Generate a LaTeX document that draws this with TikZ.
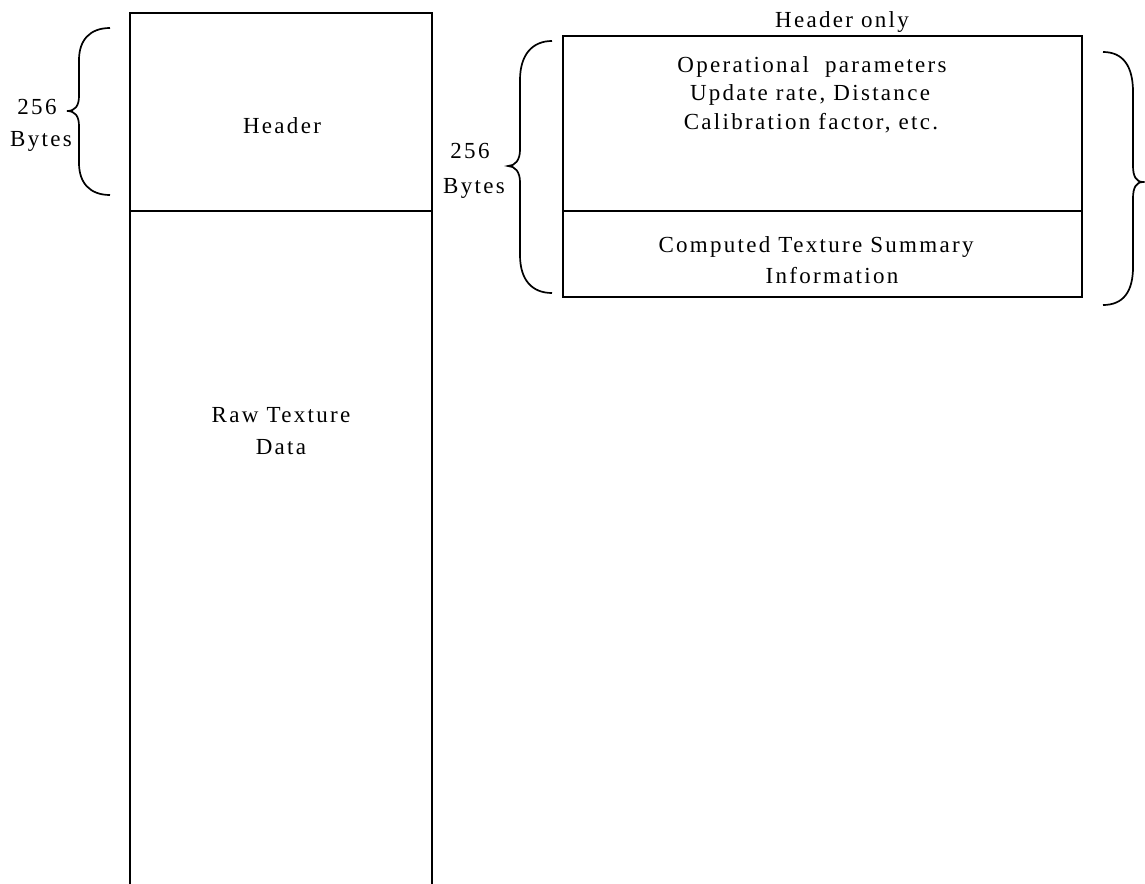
\documentclass[tikz,border=0pt]{standalone}
\usepackage{fontspec}
\setmainfont{Liberation Serif}[LetterSpace=10]
\begin{document}
\begin{tikzpicture}[x=1pt,y=-1pt,
  rule/.style={line width=1.9pt, black},
  curly/.style={line width=1.7pt, black},
  lbl/.style={anchor=base, inner sep=0pt, font=\fontsize{23}{28}\selectfont}]
\useasboundingbox (0,0) rectangle (1145,883);

% file layout column: header block above raw data, open at the bottom
\coordinate (colTL) at (130,13);
\coordinate (colTR) at (432,13);
\coordinate (colML) at (130,211);
\coordinate (colMR) at (432,211);
\coordinate (colBL) at (130,884);
\coordinate (colBR) at (432,884);
\draw[rule] (colBL) -- (colTL) -- (colTR) -- (colBR);
\draw[rule] (colML) -- (colMR);

% header detail box
\coordinate (detTL) at (563,36);
\coordinate (detBR) at (1082,297);
\coordinate (detML) at (563,211);
\coordinate (detMR) at (1082,211);
\draw[rule] (detTL) rectangle (detBR);
\draw[rule] (detML) -- (detMR);

% braces
\draw[curly] (110,28) .. controls (90,28) and (79,40) .. (79,60) -- (79,96)
  .. controls (79,106) and (75,111) .. (67,111)
  .. controls (75,111) and (79,116) .. (79,126) -- (79,163)
  .. controls (79,183) and (90,195) .. (110,195);
\draw[curly] (552,41) .. controls (532,41) and (520,55) .. (520,80) -- (520,150)
  .. controls (520,160) and (515,166) .. (508,166)
  .. controls (515,166) and (520,172) .. (520,182) -- (520,255)
  .. controls (520,280) and (532,293) .. (552,293);
\draw[curly] (1103,52) .. controls (1123,52) and (1133,66) .. (1133,92) -- (1133,166)
  .. controls (1133,176) and (1136,182) .. (1143,182)
  .. controls (1136,182) and (1133,188) .. (1133,198) -- (1133,267)
  .. controls (1133,292) and (1123,305) .. (1103,305);

% labels
\node[lbl] (szA) at (37,114) {256};
\node[lbl] (byA) at (41,146) {Bytes};
\node[lbl] (szB) at (470,158) {256};
\node[lbl] (byB) at (474,193) {Bytes};

\node[lbl] (hdr) at (282,133) {Header};
\node[lbl] (raw1) at (281,422) {Raw Texture};
\node[lbl] (raw2) at (281,454) {Data};

\node[lbl] (only) at (842,28) {Header only};
\node[lbl] (op1) at (812,72) {Operational\ \ parameters};
\node[lbl] (op2) at (810,100) {Update rate, Distance};
\node[lbl] (op3) at (811,129) {Calibration factor, etc.};
\node[lbl] (cts1) at (816,252) {Computed Texture Summary};
\node[lbl] (cts2) at (832,283) {Information};
\end{tikzpicture}
\end{document}
